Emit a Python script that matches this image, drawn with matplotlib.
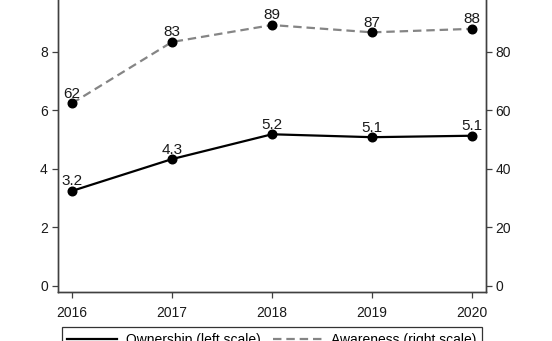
import matplotlib
matplotlib.use('Agg')
import matplotlib.pyplot as plt

plt.rcParams['font.family'] = ['Liberation Sans', 'DejaVu Sans']

# Data
years = [2016, 2017, 2018, 2019, 2020]
ownership = [3.24, 4.33, 5.18, 5.08, 5.13]      # left scale
awareness = [62.4, 83.4, 89.2, 86.7, 87.9]      # right scale
own_labels = ['3.2', '4.3', '5.2', '5.1', '5.1']
aw_labels = ['62', '83', '89', '87', '88']
left_ticks = [0, 2, 4, 6, 8, 10]
right_ticks = [0, 20, 40, 60, 80, 100]

W, H = 552, 341
fig = plt.figure(figsize=(W / 100, H / 100), dpi=100)

# plot area in pixels (top runs off the image, as in the reference)
px_left, px_right, px_bottom = 57.5, 486, 292
ylo, yhi = -0.22, 10.3
scale = 29.25  # pixels per left-axis unit
px_top = 286 - yhi * scale
ax = fig.add_axes([px_left / W, (H - px_bottom) / H,
                   (px_right - px_left) / W, (px_bottom - px_top) / H])
ax2 = ax.twinx()

spine_col = '#404040'
txt_col = '#1a1a1a'

l1, = ax.plot(years, ownership, color='black', lw=1.6, marker='o', ms=6.2,
              mfc='black', mec='black', label='Ownership (left scale)', zorder=3)
l2, = ax2.plot(years, awareness, color='#858585', lw=1.6, ls=(0, (3.8, 2.2)),
               marker='o', ms=6.2, mfc='black', mec='black',
               label='Awareness (right scale)', zorder=3)

for x, y, s in zip(years, ownership, own_labels):
    ax.annotate(s, (x, y), xytext=(0, 4), textcoords='offset points',
                ha='center', va='baseline', fontsize=11, color=txt_col)
for x, y, s in zip(years, awareness, aw_labels):
    ax2.annotate(s, (x, y), xytext=(0, 4), textcoords='offset points',
                 ha='center', va='baseline', fontsize=11, color=txt_col)

ax.set_xlim(2015.855, 2020.14)
ax.set_ylim(ylo, yhi)
ax2.set_ylim(ylo * 10, yhi * 10)
ax.set_xticks(years)
ax.set_yticks(left_ticks)
ax2.set_yticks(right_ticks)

for a in (ax, ax2):
    for side in a.spines:
        a.spines[side].set_color(spine_col)
        a.spines[side].set_linewidth(1.0)
    a.spines['top'].set_visible(False)
    a.tick_params(length=4, width=0.9, color=spine_col, labelcolor=txt_col,
                  labelsize=10, pad=3)
ax.tick_params(axis='x', pad=6)

leg = fig.legend(handles=[l1, l2], loc='upper center',
                 bbox_to_anchor=(272 / W, (H - 327) / H), ncol=2,
                 frameon=True, fancybox=False, fontsize=10,
                 handlelength=3.6, handletextpad=0.6, columnspacing=0.9,
                 borderpad=0.4, borderaxespad=0)
leg.get_frame().set_edgecolor('black')
leg.get_frame().set_linewidth(0.9)
for h in leg.legend_handles:
    h.set_marker('')

fig.savefig('out.png', dpi=100, facecolor='white')
